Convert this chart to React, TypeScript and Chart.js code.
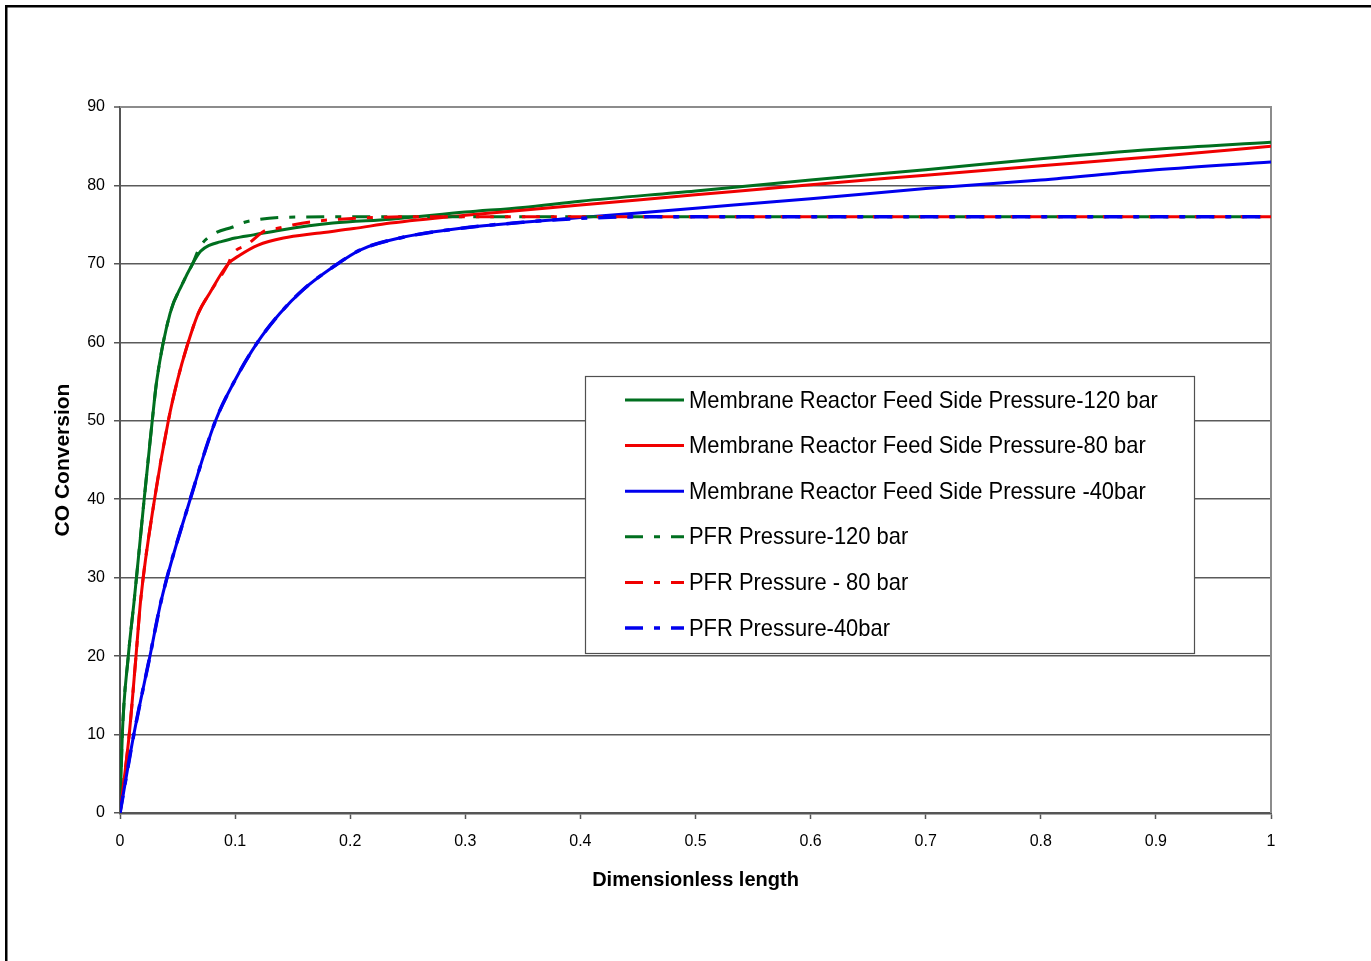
import React, { useEffect, useRef } from 'react';
import { Chart, registerables } from 'chart.js';

Chart.register(...registerables);

// ---------- data ----------
const X_TICKS = [0, 0.1, 0.2, 0.3, 0.4, 0.5, 0.6, 0.7, 0.8, 0.9, 1];
const Y_TICKS = [0, 10, 20, 30, 40, 50, 60, 70, 80, 90];

const SERIES_LABELS = [
  'Membrane Reactor Feed Side Pressure-120 bar',
  'Membrane Reactor Feed Side Pressure-80 bar',
  'Membrane Reactor Feed Side Pressure -40bar',
  'PFR Pressure-120 bar',
  'PFR Pressure - 80 bar',
  'PFR Pressure-40bar',
];

const MR120_X = [0, 0.002, 0.0072, 0.0124, 0.021, 0.028, 0.032, 0.0435, 0.054, 0.063, 0.07, 0.078, 0.087, 0.1, 0.116, 0.139, 0.185, 0.235, 0.3, 0.35, 0.4, 0.5, 0.6, 0.7, 0.8, 0.9, 1.0];
const MR120_Y = [0, 10, 20, 27.2, 40, 50, 55.2, 63.7, 67.4, 70, 71.6, 72.4, 72.8, 73.3, 73.7, 74.3, 75.2, 75.7, 76.6, 77.2, 78.0, 79.3, 80.7, 82.0, 83.4, 84.6, 85.5];

const MR80_X = [0, 0.008, 0.0139, 0.018, 0.03, 0.042, 0.05, 0.058, 0.068, 0.078, 0.094, 0.104, 0.12, 0.142, 0.171, 0.203, 0.235, 0.3, 0.4, 0.5, 0.6, 0.7, 0.8, 0.9, 1.0];
const MR80_Y = [0, 10, 20, 27.2, 40, 50, 55.2, 59.4, 63.7, 66.3, 70, 71.1, 72.4, 73.3, 73.9, 74.5, 75.2, 76.2, 77.5, 78.8, 80.1, 81.3, 82.5, 83.7, 85.0];

const MR40_X = [0, 0.012, 0.026, 0.036, 0.061, 0.083, 0.1, 0.119, 0.139, 0.159, 0.185, 0.209, 0.243, 0.3, 0.35, 0.4, 0.5, 0.6, 0.7, 0.8, 0.9, 1.0];
const MR40_Y = [0, 10, 20, 27.2, 40, 50, 55.2, 59.9, 63.7, 66.7, 69.6, 71.8, 73.3, 74.6, 75.3, 75.9, 77.1, 78.3, 79.6, 80.7, 82.0, 83.0];

const PFR120_X = [0, 0.002, 0.0072, 0.0124, 0.021, 0.028, 0.032, 0.0435, 0.054, 0.063, 0.0695, 0.0825, 0.098, 0.107, 0.122, 0.145, 0.2, 0.3, 0.4, 0.5, 0.6, 0.7, 0.8, 0.9, 1.0];
const PFR120_Y = [0, 10, 20, 27.2, 40, 50, 55.2, 63.7, 67.4, 70, 72.2, 73.9, 74.7, 75.25, 75.7, 75.95, 76, 76, 76, 76, 76, 76, 76, 76, 76];

const PFR80_X = [0, 0.008, 0.0139, 0.018, 0.03, 0.042, 0.05, 0.058, 0.068, 0.078, 0.094, 0.098, 0.11, 0.127, 0.136, 0.151, 0.168, 0.191, 0.25, 0.3, 0.4, 0.5, 0.6, 0.7, 0.8, 0.9, 1.0];
const PFR80_Y = [0, 10, 20, 27.2, 40, 50, 55.2, 59.4, 63.7, 66.3, 70, 71.3, 72.4, 74.3, 74.5, 75.0, 75.4, 75.7, 76, 76, 76, 76, 76, 76, 76, 76, 76];

const PFR40_X = [0, 0.012, 0.026, 0.036, 0.061, 0.083, 0.1, 0.119, 0.139, 0.159, 0.185, 0.209, 0.243, 0.3, 0.35, 0.4, 0.45, 0.5, 0.6, 0.7, 0.8, 0.9, 1.0];
const PFR40_Y = [0, 10, 20, 27.2, 40, 50, 55.2, 59.9, 63.7, 66.7, 69.6, 71.8, 73.3, 74.6, 75.3, 75.8, 76, 76, 76, 76, 76, 76, 76];

const GREEN = '#006f1f';
const RED = '#f00000';
const BLUE = '#0000ee';
const DASH = [18, 11, 6, 11];

function toPoints(xs: number[], ys: number[]) {
  return xs.map((x, i) => ({ x, y: ys[i] }));
}

const framePlugin = {
  id: 'frameAndLegend',
  beforeDraw(chart: any) {
    const ctx = chart.ctx;
    ctx.save();
    ctx.fillStyle = '#ffffff';
    ctx.fillRect(0, 0, chart.width, chart.height);
    ctx.fillStyle = '#000000';
    ctx.fillRect(5, 5, 2.5, chart.height - 5);
    ctx.fillRect(5, 5, chart.width - 5, 2.5);
    ctx.restore();
  },
  beforeDatasetsDraw(chart: any) {
    const { ctx, chartArea } = chart;
    ctx.save();
    ctx.strokeStyle = '#8c8c8c';
    ctx.lineWidth = 2;
    ctx.beginPath();
    ctx.moveTo(chartArea.left, chartArea.top);
    ctx.lineTo(chartArea.right, chartArea.top);
    ctx.lineTo(chartArea.right, chartArea.bottom);
    ctx.stroke();
    ctx.restore();
  },
  afterDatasetsDraw(chart: any) {
    const ctx = chart.ctx;
    const bx = 585, by = 376, bw = 609, bh = 277;
    ctx.save();
    ctx.fillStyle = '#ffffff';
    ctx.fillRect(bx, by, bw, bh);
    ctx.strokeStyle = '#505050';
    ctx.lineWidth = 1.2;
    ctx.strokeRect(bx + 0.5, by + 0.5, bw, bh);
    ctx.font = '24px Arial, "Liberation Sans", sans-serif';
    ctx.textBaseline = 'middle';
    ctx.textAlign = 'left';
    chart.data.datasets.forEach((ds: any, i: number) => {
      const y = 400 + i * 45.6;
      ctx.save();
      ctx.strokeStyle = ds.borderColor;
      ctx.lineWidth = ds.borderWidth;
      ctx.setLineDash(ds.borderDash || []);
      ctx.beginPath();
      ctx.moveTo(625, y);
      ctx.lineTo(684, y);
      ctx.stroke();
      ctx.restore();
      ctx.save();
      ctx.fillStyle = '#000000';
      ctx.translate(689, y + 1);
      ctx.scale(0.913, 1);
      ctx.fillText(ds.label, 0, 0);
      ctx.restore();
    });
    ctx.restore();
  },
};

export default function App() {
  const canvasRef = useRef<HTMLCanvasElement | null>(null);

  useEffect(() => {
    const canvas = canvasRef.current;
    if (!canvas) return;
    const mk = (i: number, xs: number[], ys: number[], color: string, dashed: boolean, order: number, width = 3) => ({
      label: SERIES_LABELS[i],
      data: toPoints(xs, ys),
      borderColor: color,
      backgroundColor: color,
      borderWidth: width,
      borderDash: dashed ? DASH : [],
      showLine: true,
      pointRadius: 0,
      fill: false,
      cubicInterpolationMode: 'monotone',
      order,
    });
    const chart = new Chart(canvas, {
      type: 'scatter',
      data: {
        datasets: [
          mk(0, MR120_X, MR120_Y, GREEN, false, 5),
          mk(1, MR80_X, MR80_Y, RED, false, 4),
          mk(2, MR40_X, MR40_Y, BLUE, false, 3),
          mk(3, PFR120_X, PFR120_Y, GREEN, true, 2),
          mk(4, PFR80_X, PFR80_Y, RED, true, 1),
          mk(5, PFR40_X, PFR40_Y, BLUE, true, 0, 3.5),
        ] as any,
      },
      options: {
        responsive: false,
        animation: false,
        devicePixelRatio: 1,
        layout: { padding: { left: 0, right: 100, top: 107, bottom: 0 } },
        plugins: {
          legend: { display: false },
          tooltip: { enabled: false },
        },
        scales: {
          x: {
            type: 'linear',
            min: 0,
            max: 1,
            afterBuildTicks: (s: any) => {
              s.ticks = X_TICKS.map((v) => ({ value: v }));
            },
            afterFit: (s: any) => {
              s.height = 148;
            },
            grid: {
              drawOnChartArea: false,
              drawTicks: true,
              tickLength: 6,
              color: '#555555',
              tickColor: '#555555',
              tickWidth: 1.5,
            },
            border: { display: true, color: '#555555', width: 2.5 },
            ticks: {
              font: { family: 'Arial, "Liberation Sans", sans-serif', size: 16 },
              color: '#000000',
              padding: 13,
              maxRotation: 0,
              autoSkip: false,
              callback: (v: any) => String(v),
            },
            title: {
              display: true,
              text: 'Dimensionless length',
              font: { family: 'Arial, "Liberation Sans", sans-serif', size: 20, weight: 'bold' },
              color: '#000000',
              padding: { top: 0, bottom: 69 },
            },
          },
          y: {
            type: 'linear',
            min: 0,
            max: 90,
            afterBuildTicks: (s: any) => {
              s.ticks = Y_TICKS.map((v) => ({ value: v }));
            },
            afterFit: (s: any) => {
              s.width = 120;
            },
            grid: {
              drawOnChartArea: true,
              drawTicks: true,
              tickLength: 6,
              color: (c: any) => (c.tick && c.tick.value === 90 ? '#8c8c8c' : '#5a5a5a'),
              lineWidth: (c: any) => (c.tick && c.tick.value === 90 ? 2 : 1.5),
              tickColor: '#555555',
              tickWidth: 1.5,
            },
            border: { display: true, color: '#555555', width: 2 },
            ticks: {
              font: { family: 'Arial, "Liberation Sans", sans-serif', size: 16 },
              color: '#000000',
              padding: 9,
              autoSkip: false,
              callback: (v: any) => String(v),
            },
            title: {
              display: true,
              text: 'CO Conversion',
              font: { family: 'Arial, "Liberation Sans", sans-serif', size: 21, weight: 'bold' },
              color: '#000000',
              padding: { top: 51, bottom: 0 },
            },
          },
        },
      } as any,
      plugins: [framePlugin],
    });
    return () => chart.destroy();
  }, []);

  return (
    <div style={{ position: 'fixed', left: 0, top: 0, width: 1371, height: 961, background: '#fff' }}>
      <canvas ref={canvasRef} width={1371} height={961} style={{ display: 'block', width: 1371, height: 961 }} />
    </div>
  );
}
